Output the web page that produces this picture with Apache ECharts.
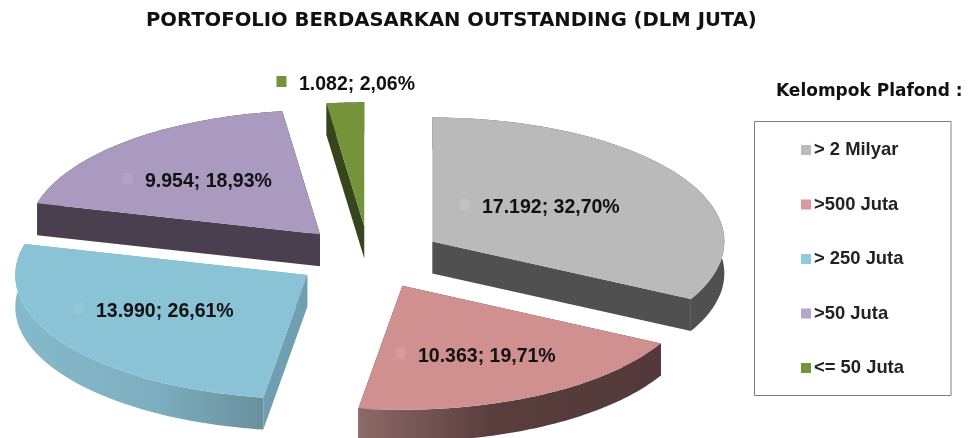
<!DOCTYPE html>
<html>
<head>
<meta charset="utf-8">
<style>html,body{margin:0;padding:0;background:#fff}#c{width:969px;height:438px}</style>
<script src="https://cdn.jsdelivr.net/npm/echarts@6/dist/echarts.min.js"></script>
</head>
<body>
<div id="c"></div>
<script>
// ---- data ----
var categories = ['> 2 Milyar', '>500 Juta', '> 250 Juta', '>50 Juta', '<= 50 Juta'];
var values = [17192, 10363, 13990, 9954, 1082];
var valueLabels = ['17.192; 32,70%', '10.363; 19,71%', '13.990; 26,61%', '9.954; 18,93%', '1.082; 2,06%'];

// ---- style / layout ----
var topColors = ['#bababa', '#d19090', '#8ac3d6', '#aa9abf', '#75933a'];
var legendColors = ['#bdbdbd', '#d99a9a', '#8fcbdd', '#b5a5cf', '#76923c'];
var keyColors = ['#c1c1c1', '#d59a9a', '#94c8d9', '#b1a2c4', '#75933a'];
var rimColors = [
  [[0, '#505050'], [1, '#505050']],
  [[0, '#8c6a68'], [0.45, '#583d3c'], [1, '#533939']],
  [[0, '#84bacb'], [0.55, '#7eafc0'], [1, '#69909e']],
  [[0, '#4a3f4f'], [1, '#4a3f4f']],
  [[0, '#37451c'], [1, '#37451c']]
];
var cutColors = ['#505050', '#553a3a', '#6f9fb0', '#4a3f4f', '#37451c'];
var labelAnchors = [[482, 208], [418, 357], [96, 312], [145, 182], [299, 85]];
var drawOrder = [3, 4, 0, 2, 1]; // back to front
var CX = 369, CY = 257.7, RX = 292, RY = 124, DEPTH = 32, EXPLODE = 0.2534;

var total = values.reduce(function (a, b) { return a + b; }, 0);
var starts = [];
values.reduce(function (acc, v, i) { starts[i] = acc; return acc + v; }, 0);

function linear(stops, vertical) {
  return {
    type: 'linear', x: 0, y: 0, x2: vertical ? 0 : 1, y2: vertical ? 1 : 0,
    colorStops: stops.map(function (s) { return { offset: s[0], color: s[1] }; })
  };
}

function renderSlice(params, api) {
  var i = params.seriesIndex;
  var a0 = starts[i] / total * Math.PI * 2;
  var a1 = a0 + api.value(0) / total * Math.PI * 2;
  var mid = (a0 + a1) / 2;
  var ox = CX + RX * EXPLODE * Math.sin(mid);
  var oy = CY - RY * EXPLODE * Math.cos(mid);
  function pt(t, d) { return [ox + RX * Math.sin(t), oy - RY * Math.cos(t) + (d || 0)]; }
  var arc = [], n = 72, k;
  for (k = 0; k <= n; k++) arc.push(pt(a0 + (a1 - a0) * k / n));
  var top = [[ox, oy]].concat(arc);
  var arcBottom = arc.map(function (p) { return [p[0], p[1] + DEPTH]; }).reverse();
  var apexLow = [ox, oy + DEPTH];
  var cut0 = [[ox, oy], apexLow, pt(a0, DEPTH), pt(a0)];
  var cut1 = [[ox, oy], apexLow, pt(a1, DEPTH), pt(a1)];
  var textPos = labelAnchors[i];
  return {
    type: 'group',
    children: [
      { type: 'polygon', shape: { points: cut0 }, style: { fill: cutColors[i], stroke: null } },
      { type: 'polygon', shape: { points: cut1 }, style: { fill: cutColors[i], stroke: null } },
      { type: 'polygon', shape: { points: arc.concat(arcBottom) }, style: { fill: linear(rimColors[i]), stroke: null } },
      { type: 'polygon', shape: { points: top }, style: { fill: topColors[i], stroke: null } },
      { type: 'rect', shape: { x: textPos[0] - 22.5, y: textPos[1] - 9, width: 10, height: 11 }, style: { fill: keyColors[i] } },
      { type: 'text', style: {
          text: valueLabels[i], x: textPos[0], y: textPos[1],
          fill: '#111', fontFamily: 'Liberation Sans', fontWeight: 'bold', fontSize: 19.5,
          align: 'left', verticalAlign: 'middle'
      } }
    ]
  };
}

var series = categories.map(function (name, i) {
  return {
    type: 'custom', name: name, coordinateSystem: 'none',
    z: 2 + drawOrder.indexOf(i),
    itemStyle: { color: legendColors[i] },
    renderItem: renderSlice,
    data: [[values[i]]],
    silent: true
  };
});

var chart = echarts.init(document.getElementById('c'), null, { renderer: 'canvas' });
chart.setOption({
  animation: false,
  backgroundColor: '#fff',
  title: {
    text: 'PORTOFOLIO BERDASARKAN OUTSTANDING (DLM JUTA)',
    left: 146, top: 11, padding: 0,
    textStyle: { fontFamily: 'DejaVu Sans', fontWeight: 'bold', fontSize: 19.6, color: '#111' }
  },
  legend: {
    data: categories, orient: 'vertical', left: 801, top: 141, padding: 0,
    icon: 'rect', itemWidth: 10, itemHeight: 10, itemGap: 36.5, selectedMode: false,
    formatter: function (n) { return n; },
    textStyle: { fontFamily: 'Liberation Sans', fontWeight: 'bold', fontSize: 18.4, lineHeight: 18, color: '#222', padding: [0, 0, 0, -2] }
  },
  graphic: [
    { type: 'rect', z: 1, shape: { x: 754.5, y: 121.5, width: 196.5, height: 274 }, style: { fill: '#fff', stroke: '#7f7f7f', lineWidth: 1 } },
    { type: 'text', z: 1, style: { text: 'Kelompok Plafond :', x: 776, y: 92, fill: '#111', fontFamily: 'DejaVu Sans', fontWeight: 'bold', fontSize: 17, align: 'left', verticalAlign: 'middle' } }
  ],
  series: series
});
</script>
</body>
</html>
